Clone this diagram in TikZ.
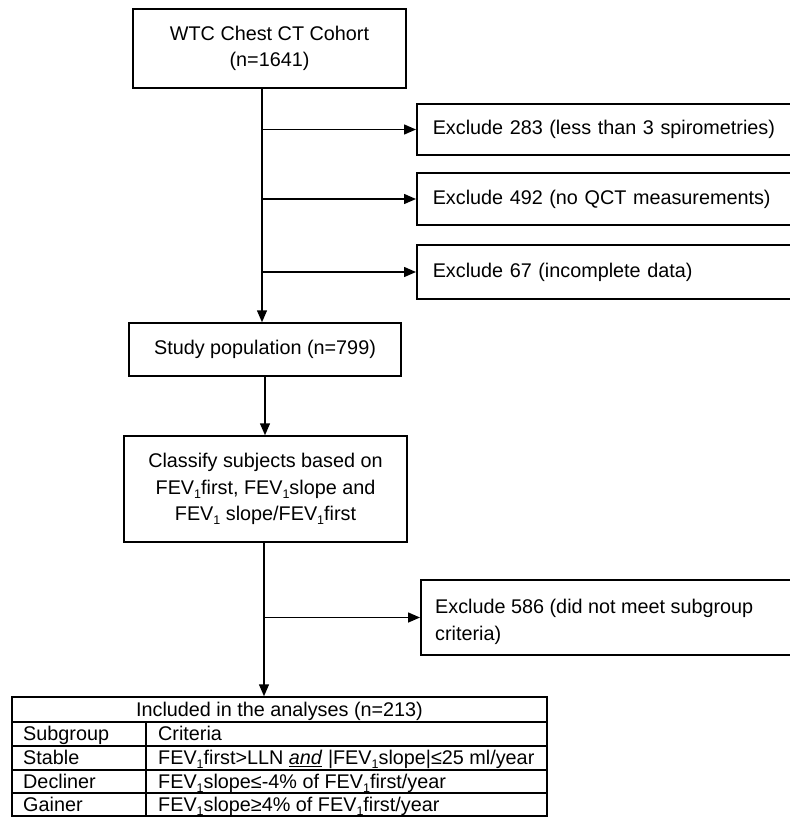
\documentclass[tikz,border=0pt]{standalone}
\usepackage{fontspec}
\setmainfont{Liberation Sans}
\usetikzlibrary{arrows.meta}
\newcommand{\subone}{\raisebox{-0.4ex}{\fontsize{12.5}{12.5}\selectfont 1}}
\newcommand{\FEV}{FEV\subone}
\begin{document}
\begin{tikzpicture}[x=1pt,y=-1pt,
  ln/.style={line width=1.5pt},
  box/.style={draw, line width=1.5pt, rectangle, inner sep=0pt, align=center,
    font=\fontsize{19.8}{26.5}\selectfont},
  exbox/.style={draw, line width=1.5pt, rectangle, anchor=west, inner xsep=16pt, inner ysep=0pt,
    align=left, minimum width=400pt, text width=368pt, font=\fontsize{19.8}{27}\selectfont},
  tx/.style={inner sep=0pt, font=\fontsize{19.8}{27}\selectfont},
  arr/.style={line width=1.5pt, -{Triangle[length=12pt,width=10pt]}}]
\useasboundingbox (0,0) rectangle (790,817);
\clip (0,0) rectangle (790,817);
\fill[white] (0,0) rectangle (790,817);

\coordinate (trunk) at (262,0);
\coordinate (trunkb) at (264,0);

\node[box, minimum width=273pt, minimum height=79pt] (cohort) at (269.5,48.5)
  {WTC Chest CT Cohort\\(n=1641)};
\node[exbox, minimum height=51pt] (exA) at (416,129.5) {Exclude 283 (less than 3 spirometries)};
\node[exbox, minimum height=52pt] (exB) at (416,199) {Exclude 492 (no QCT measurements)};
\node[exbox, minimum height=54pt] (exC) at (416,272) {Exclude 67 (incomplete data)};
\node[box, minimum width=272pt, minimum height=53pt] (study) at (265,349.5)
  {Study population (n=799)};
\node[box, minimum width=283pt, minimum height=106pt] (classify) at (265.5,489)
  {Classify subjects based on\\\FEV first, \FEV slope and\\\FEV\ slope/\FEV first};
\node[exbox, minimum height=75pt] (exD) at (420,617.5) {};
\node[tx, anchor=west, align=left] (exDtext) at (435,621.5)
  {Exclude 586 (did not meet subgroup\\criteria)};
\node[draw, line width=1.5pt, rectangle, inner sep=0pt, minimum width=535pt, minimum height=119pt]
  (table) at (279.5,756.5) {};

% connectors
\draw[arr] (cohort.south -| trunk) -- (study.north -| trunk);
\draw[arr] (trunk |- exA.west) -- (exA.west);
\draw[arr] (trunk |- exB.west) -- (exB.west);
\draw[arr] (trunk |- exC.west) -- (exC.west);
\draw[arr] (study.south) -- (study.south |- classify.north);
\draw[arr] (classify.south -| trunkb) -- (table.north -| trunkb);
\draw[arr] (trunkb |- exD.west) -- (exD.west);

% table rules
\draw[ln] (12,722) -- (547,722);
\draw[ln] (12,746) -- (547,746);
\draw[ln] (12,770) -- (547,770);
\draw[ln] (12,793) -- (547,793);
\draw[ln] (146,722) -- (146,816);

% table text
\node[tx, anchor=base] (thead) at (279.5,716.5) {Included in the analyses (n=213)};
\node[tx, anchor=base west] (c11) at (23,740.5) {Subgroup};
\node[tx, anchor=base west] (c12) at (158,740.5) {Criteria};
\node[tx, anchor=base west] (c21) at (23,764.5) {Stable};
\node[tx, anchor=base west] (c22) at (158,764.5) {\FEV first>LLN \underline{\textit{and}} |\FEV slope|≤25 ml/year};
\node[tx, anchor=base west] (c31) at (23,788) {Decliner};
\node[tx, anchor=base west] (c32) at (158,788) {\FEV slope≤-4\% of \FEV first/year};
\node[tx, anchor=base west] (c41) at (23,811) {Gainer};
\node[tx, anchor=base west] (c42) at (158,811) {\FEV slope≥4\% of \FEV first/year};
\end{tikzpicture}
\end{document}
